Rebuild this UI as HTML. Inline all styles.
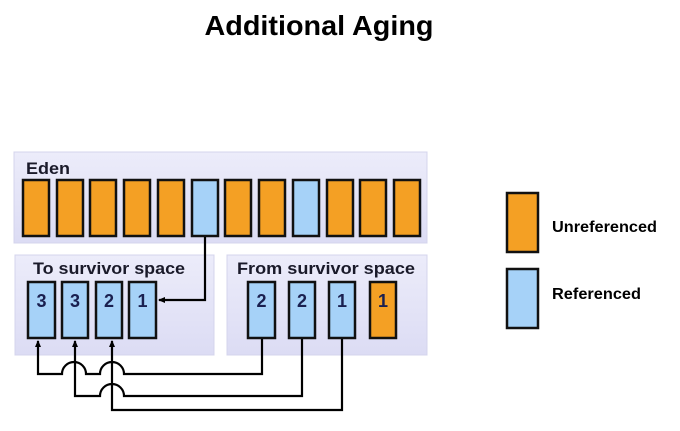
<!DOCTYPE html>
<html><head><meta charset="utf-8"><style>
html,body{margin:0;padding:0;background:#fff;}
svg{display:block;font-family:"Liberation Sans",Arial,sans-serif;}
</style></head><body>
<svg width="680" height="431" viewBox="0 0 680 431" xmlns="http://www.w3.org/2000/svg">
<defs>
<linearGradient id="pg" x1="0" y1="0" x2="0" y2="1">
<stop offset="0" stop-color="#ececfa"/><stop offset="1" stop-color="#dcdcf4"/>
</linearGradient>
<marker id="ah" markerWidth="8" markerHeight="8" refX="6" refY="4" orient="auto" markerUnits="userSpaceOnUse">
<path d="M0,1 L7,4 L0,7 z" fill="#000"/>
</marker>
</defs>
<text x="319" y="35" text-anchor="middle" font-size="28" font-weight="bold" fill="#000" textLength="229" lengthAdjust="spacingAndGlyphs">Additional Aging</text>

<rect x="14" y="152" width="413" height="91" fill="url(#pg)" stroke="#d4d4ec"/>
<rect x="15" y="255" width="199" height="100" fill="url(#pg)" stroke="#d4d4ec"/>
<rect x="227" y="255" width="200" height="100" fill="url(#pg)" stroke="#d4d4ec"/>

<g font-size="17" font-weight="bold" fill="#1a1a2a">
<text x="26" y="174" textLength="44" lengthAdjust="spacingAndGlyphs">Eden</text>
<text x="33" y="274" textLength="152" lengthAdjust="spacingAndGlyphs">To survivor  space</text>
<text x="237" y="274" textLength="178" lengthAdjust="spacingAndGlyphs">From survivor  space</text>
</g>

<g stroke="#111" stroke-width="2.5">
<rect x="23" y="180" width="26" height="56" fill="#f4a024"/>
<rect x="57" y="180" width="26" height="56" fill="#f4a024"/>
<rect x="90" y="180" width="26" height="56" fill="#f4a024"/>
<rect x="124" y="180" width="26" height="56" fill="#f4a024"/>
<rect x="158" y="180" width="26" height="56" fill="#f4a024"/>
<rect x="192" y="180" width="26" height="56" fill="#a6d2f8"/>
<rect x="225" y="180" width="26" height="56" fill="#f4a024"/>
<rect x="259" y="180" width="26" height="56" fill="#f4a024"/>
<rect x="293" y="180" width="26" height="56" fill="#a6d2f8"/>
<rect x="327" y="180" width="26" height="56" fill="#f4a024"/>
<rect x="360" y="180" width="26" height="56" fill="#f4a024"/>
<rect x="394" y="180" width="26" height="56" fill="#f4a024"/>

<rect x="28" y="282" width="27" height="56" fill="#a6d2f8"/>
<rect x="62" y="282" width="26" height="56" fill="#a6d2f8"/>
<rect x="96" y="282" width="26" height="56" fill="#a6d2f8"/>
<rect x="129" y="282" width="27" height="56" fill="#a6d2f8"/>
<rect x="248" y="282" width="27" height="56" fill="#a6d2f8"/>
<rect x="289" y="282" width="26" height="56" fill="#a6d2f8"/>
<rect x="329" y="282" width="26" height="56" fill="#a6d2f8"/>
<rect x="370" y="282" width="26" height="56" fill="#f4a024"/>

<rect x="507" y="193" width="31" height="59" fill="#f4a024"/>
<rect x="507" y="269" width="31" height="59" fill="#a6d2f8"/>
</g>

<g font-size="18" font-weight="bold" fill="#1a2050" text-anchor="middle">
<text x="41.5" y="307">3</text>
<text x="75" y="307">3</text>
<text x="109" y="307">2</text>
<text x="142.5" y="307">1</text>
<text x="261.5" y="307">2</text>
<text x="302" y="307">2</text>
<text x="342" y="307">1</text>
<text x="383" y="307">1</text>
</g>

<g font-size="15.5" font-weight="bold" fill="#000">
<text x="552" y="232" textLength="105" lengthAdjust="spacingAndGlyphs">Unreferenced</text>
<text x="552" y="299" textLength="89" lengthAdjust="spacingAndGlyphs">Referenced</text>
</g>

<g fill="none" stroke="#000" stroke-width="2.2">
<path d="M205,237 V300 H159" marker-end="url(#ah)"/>
<path d="M262,339 V374 H124 A12,12 0 0 0 100,374 H86 A12,12 0 0 0 62,374 H38 V341" marker-end="url(#ah)"/>
<path d="M302,339 V396 H124 A12,12 0 0 0 100,396 H75 V341" marker-end="url(#ah)"/>
<path d="M342,339 V410 H112 V341" marker-end="url(#ah)"/>
</g>
</svg>
</body></html>
